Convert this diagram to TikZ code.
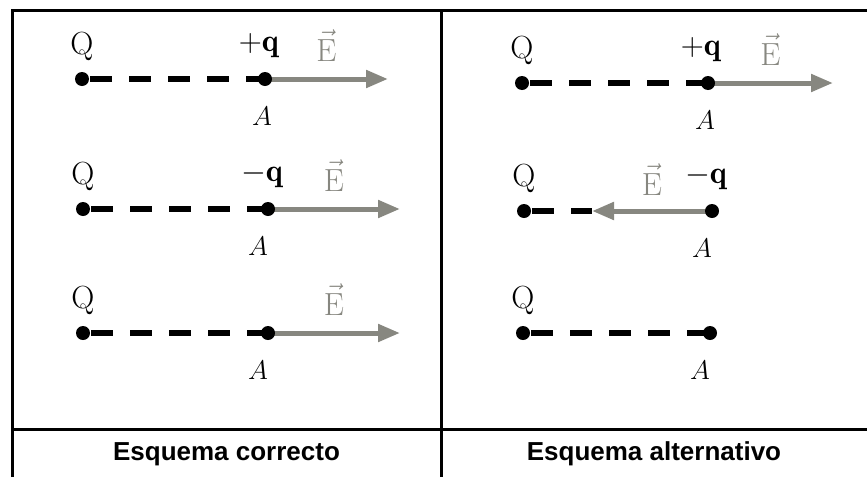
\RequirePackage{fix-cm}
\documentclass[tikz,border=0pt]{standalone}
\usepackage{fontspec}
\newfontfamily\capfont{Liberation Sans}
\usetikzlibrary{positioning, calc, arrows.meta}
\definecolor{fieldgray}{RGB}{135,135,128}

\begin{document}
\begin{tikzpicture}[x=10pt, y=-10pt,
    dot/.style={circle, fill=black, inner sep=0pt, minimum size=14pt},
    dashline/.style={line width=6pt, dash pattern=on 22pt off 17pt, dash phase=31pt},
    field/.style={fieldgray, line width=5pt, -{Triangle[length=22pt, width=17pt]}},
    lbl/.style={font=\fontsize{32}{38}\selectfont, inner sep=0pt, anchor=base},
    chg/.style={font=\fontsize{32}{38}\selectfont, inner sep=0pt, anchor=base east},
    albl/.style={font=\fontsize{27}{30}\selectfont, inner sep=0pt, anchor=base},
    frame/.style={line width=3pt},
    caption/.style={font=\capfont\bfseries\fontsize{26}{30}\selectfont}]
    \useasboundingbox (0,0) rectangle (86.7,47.7);

    % --- Définition des coordonnées ---
    \coordinate (q1) at (8.2,7.9);
    \coordinate (a1) at (26.5,7.9);
    \coordinate (e1) at (38.8,7.9);
    \coordinate (q2) at (8.3,20.9);
    \coordinate (a2) at (26.8,20.9);
    \coordinate (e2) at (40.0,20.9);
    \coordinate (q3) at (8.3,33.3);
    \coordinate (a3) at (26.8,33.3);
    \coordinate (e3) at (40.0,33.3);
    \coordinate (q4) at (52.2,8.3);
    \coordinate (a4) at (70.8,8.3);
    \coordinate (e4) at (83.3,8.3);
    \coordinate (q5) at (52.4,21.1);
    \coordinate (a5) at (71.2,21.1);
    \coordinate (e5) at (59.2,21.1);
    \coordinate (q6) at (52.3,33.3);
    \coordinate (a6) at (71.0,33.3);

    % --- Cadre du tableau ---
    \coordinate (sw) at (1.2,47.7);
    \coordinate (nw) at (1.2,1.0);
    \coordinate (ne) at (86.7,1.0);
    \coordinate (mt) at (44.1,1.0);
    \coordinate (mb) at (44.1,47.7);
    \coordinate (hl) at (1.2,42.9);
    \coordinate (hr) at (86.7,42.9);
    \draw[frame] (sw) -- (nw) -- (ne);
    \draw[frame] (mt) -- (mb);
    \draw[frame] (hl) -- (hr);

    % --- Esquema correcto ---
    \draw[dashline] (q1) -- (a1);
    \draw[field] (a1) -- (e1);
    \node[dot] (dq1) at (q1) {};
    \node[dot] (da1) at (a1) {};
    \node[above=25pt, lbl] (lq1) at (q1) {Q};
    \node[above=28pt, chg, xshift=14pt] (lc1) at (a1) {$+\mathbf{q}$};
    \node[above=18pt, lbl] (le1) at ($(a1)!0.5!(e1)$) {\color{fieldgray}$\vec{\mathrm{E}}$};
    \node[below=46pt, albl, xshift=-3pt] (la1) at (a1) {$A$};

    \draw[dashline] (q2) -- (a2);
    \draw[field] (a2) -- (e2);
    \node[dot] (dq2) at (q2) {};
    \node[dot] (da2) at (a2) {};
    \node[above=25pt, lbl] (lq2) at (q2) {Q};
    \node[above=28pt, chg, xshift=15pt] (lc2) at (a2) {$-\mathbf{q}$};
    \node[above=18pt, lbl] (le2) at ($(a2)!0.5!(e2)$) {\color{fieldgray}$\vec{\mathrm{E}}$};
    \node[below=46pt, albl, xshift=-10pt] (la2) at (a2) {$A$};

    \draw[dashline] (q3) -- (a3);
    \draw[field] (a3) -- (e3);
    \node[dot] (dq3) at (q3) {};
    \node[dot] (da3) at (a3) {};
    \node[above=25pt, lbl] (lq3) at (q3) {Q};
    \node[above=18pt, lbl] (le3) at ($(a3)!0.5!(e3)$) {\color{fieldgray}$\vec{\mathrm{E}}$};
    \node[below=46pt, albl, xshift=-10pt] (la3) at (a3) {$A$};

    % --- Esquema alternativo ---
    \draw[dashline] (q4) -- (a4);
    \draw[field] (a4) -- (e4);
    \node[dot] (dq4) at (q4) {};
    \node[dot] (da4) at (a4) {};
    \node[above=25pt, lbl] (lq4) at (q4) {Q};
    \node[above=28pt, chg, xshift=13pt] (lc4) at (a4) {$+\mathbf{q}$};
    \node[above=18pt, lbl] (le4) at ($(a4)!0.5!(e4)$) {\color{fieldgray}$\vec{\mathrm{E}}$};
    \node[below=46pt, albl, xshift=-3pt] (la4) at (a4) {$A$};

    % le champ recouvre le pointillé jusqu'à sa pointe
    \draw[dashline] (q5) -- (e5);
    \draw[field] (a5) -- (e5);
    \node[dot] (dq5) at (q5) {};
    \node[dot] (da5) at (a5) {};
    \node[above=25pt, lbl] (lq5) at (q5) {Q};
    \node[above=28pt, chg, xshift=15pt] (lc5) at (a5) {$-\mathbf{q}$};
    \node[above=16pt, lbl] (le5) at ($(a5)!0.5!(e5)$) {\color{fieldgray}$\vec{\mathrm{E}}$};
    \node[below=46pt, albl, xshift=-10pt] (la5) at (a5) {$A$};

    \draw[dashline] (q6) -- (a6);
    \node[dot] (dq6) at (q6) {};
    \node[dot] (da6) at (a6) {};
    \node[above=25pt, lbl] (lq6) at (q6) {Q};
    \node[below=46pt, albl, xshift=-10pt] (la6) at (a6) {$A$};

    % --- Légendes ---
    \node[caption] (cap1) at (22.65,45.4) {Esquema correcto};
    \node[caption] (cap2) at (65.4,45.4) {Esquema alternativo};
\end{tikzpicture}
\end{document}
